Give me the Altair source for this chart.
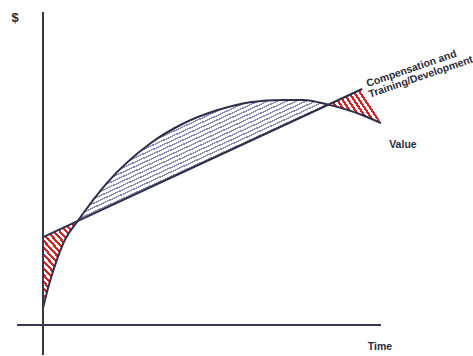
import math
import altair as alt
import numpy as np
import pandas as pd

# ---- data ----
time_pts = [0, 1.5, 3.6, 6.5, 10.1, 19.0, 31.8, 41.5, 51.6, 61.4, 71.2, 77.2, 84.6, 94.7, 100.3]
value_pts = [5.4, 11.8, 19.2, 27.2, 32.9, 45.4, 58.0, 64.3, 68.6, 71.2, 71.9, 71.9, 70.4, 67.1, 64.5]
comp_time = [0, 94.7]
comp_value = [28.1, 75.4]
cross_times = [10.1, 84.6]

axis_t = [0, -7.7]
axis_t2 = [0, 100.3]
axis_v = [-9.6, 0]
axis_v2 = [100, 0]

label_text = ["$", "Value", "Time"]
label_t = [-8.3, 106.8, 100.0]
label_v = [98.1, 57.5, -7.0]
label_size = [13, 10.5, 10.5]
rot_text = ["Compensation and", "Training/Development"]
rot_t = [96.4, 97.0]
rot_v = [76.0, 72.6]

# ---- layout ----
W, H = 337, 313
X0, XS = 43, W / 100.0
Y0, YS = 325, H / 100.0

INK = "#2d2f4a"
RED = "#d42424"
BLUE = "#8c8fbb"

t = np.array(time_pts)
v = np.array(value_pts)
comp_at_t = np.interp(t, comp_time, comp_value)

curve_df = pd.DataFrame({"t": t, "v": v})
comp_df = pd.DataFrame({"t": comp_time, "v": comp_value})

m_left = t <= cross_times[0] + 1e-9
m_mid = (t >= cross_times[0] - 1e-9) & (t <= cross_times[1] + 1e-9)
m_right = t >= cross_times[1] - 1e-9

left_df = pd.DataFrame({"t": t[m_left], "hi": comp_at_t[m_left], "lo": v[m_left]})
mid_df = pd.DataFrame({"t": t[m_mid], "hi": v[m_mid], "lo": comp_at_t[m_mid]})
right_hi = np.where(t <= comp_time[1] + 1e-9, comp_at_t, v)
right_df = pd.DataFrame({"t": t[m_right], "hi": right_hi[m_right], "lo": v[m_right]})


def stripe_fill(df, d, period, width, color, bg="#ffffff"):
    px = X0 + df["t"].to_numpy() * XS
    ys = np.concatenate([df["hi"].to_numpy(), df["lo"].to_numpy()])
    py = Y0 - ys * YS
    bw = max(px.max() - px.min(), 1.0)
    bh = max(py.max() - py.min(), 1.0)
    dx, dy = d
    L = math.hypot(dx, dy)
    dx, dy = dx / L, dy / L
    nx, ny = -dy, dx
    sx = 0.0 if nx >= 0 else 1.0
    sy = 0.0 if ny >= 0 else 1.0
    span = abs(nx) * bw + abs(ny) * bh
    a = span / (nx * nx * bw * bw + ny * ny * bh * bh)
    gx, gy = a * nx * bw, a * ny * bh
    n = span / period
    stops = []
    i = 0
    while i / n < 1.0:
        o0 = min(i / n, 1.0)
        o1 = min((i + width / period) / n, 1.0)
        o2 = min((i + 1) / n, 1.0)
        stops += [
            {"offset": o0, "color": color},
            {"offset": o1, "color": color},
            {"offset": o1, "color": bg},
            {"offset": o2, "color": bg},
        ]
        i += 1
    return {
        "gradient": "linear",
        "x1": sx, "y1": sy, "x2": sx + gx, "y2": sy + gy,
        "stops": stops,
    }


xs = alt.Scale(domain=[0, 100], nice=False, zero=False)
ys_ = alt.Scale(domain=[0, 100], nice=False, zero=False)
X = lambda f: alt.X(f, type="quantitative", scale=xs, axis=None)
Y = lambda f: alt.Y(f, type="quantitative", scale=ys_, axis=None)

left_area = alt.Chart(left_df).mark_area(
    interpolate="monotone", fill=stripe_fill(left_df, (1, 1.1), 4.6, 2.2, RED)
).encode(x=X("t"), y=Y("hi"), y2="lo")

mid_area = alt.Chart(mid_df).mark_area(
    interpolate="monotone", fill=stripe_fill(mid_df, (1, -0.46), 4.0, 1.4, BLUE)
).encode(x=X("t"), y=Y("hi"), y2="lo")

right_area = alt.Chart(right_df).mark_area(
    interpolate="linear", fill=stripe_fill(right_df, (1, 1.5), 4.6, 2.2, RED)
).encode(x=X("t"), y=Y("hi"), y2="lo")

curve = alt.Chart(curve_df).mark_line(
    interpolate="monotone", color=INK, strokeWidth=2
).encode(x=X("t"), y=Y("v"))

comp = alt.Chart(comp_df).mark_line(color=INK, strokeWidth=2).encode(x=X("t"), y=Y("v"))

axes_df = pd.DataFrame({"t": axis_t, "t2": axis_t2, "v": axis_v, "v2": axis_v2})
axes = alt.Chart(axes_df).mark_rule(color="#36374f", strokeWidth=2).encode(
    x=X("t"), x2="t2", y=Y("v"), y2="v2"
)

lab_df = pd.DataFrame({"t": label_t, "v": label_v, "txt": label_text, "size": label_size})
labels = alt.Chart(lab_df).mark_text(
    font="Liberation Sans", fontWeight="bold", color="#2a2b3a",
    align="center", baseline="middle"
).encode(
    x=X("t"), y=Y("v"), text="txt:N",
    size=alt.Size("size:Q", scale=None, legend=None),
)

rot_df = pd.DataFrame({"t": rot_t, "v": rot_v, "txt": rot_text})
rot_labels = alt.Chart(rot_df).mark_text(
    font="Liberation Sans", fontWeight="bold", fontSize=10.5, color="#2a2b3a",
    align="left", baseline="alphabetic", angle=341
).encode(x=X("t"), y=Y("v"), text="txt:N")

chart = alt.layer(
    left_area, mid_area, right_area, curve, comp, axes, labels, rot_labels
).properties(
    width=W, height=H,
    padding={"left": X0, "top": 12, "right": 473 - X0 - W, "bottom": 356 - Y0},
    autosize="none", background="white",
).configure_view(strokeWidth=0)

chart.save("out.html", embed_options={"renderer": "svg", "actions": False})
